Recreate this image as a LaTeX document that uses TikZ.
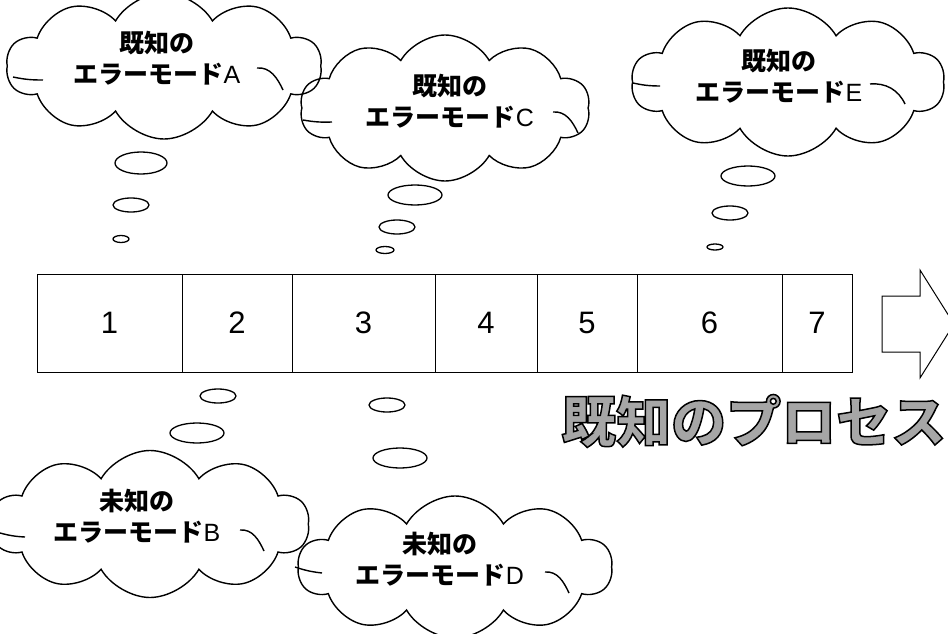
\documentclass[tikz,border=0pt]{standalone}
\usepackage{fontspec}
\setsansfont{Liberation Sans}
\newfontfamily\jp{Noto Sans CJK JP}
\usetikzlibrary{shapes.symbols,shapes.geometric}
\tikzset{
  thought/.style={cloud, cloud ignores aspect, draw=black, line width=1.4pt, cloud puffs=10, cloud puff arc=120, inner sep=0pt},
  ctext/.style={align=center, font=\jp\bfseries\fontsize{25}{31}\selectfont, inner sep=0pt},
  curl/.style={line width=1.4pt},
  bubble/.style={ellipse, draw=black, line width=1.3pt, inner sep=0pt},
  cell/.style={rectangle, draw=black, line width=1pt, minimum height=98pt, inner sep=0pt,
     font=\sffamily\fontsize{31}{34}\selectfont},
  ttl/.style={anchor=west, font=\jp\bfseries\fontsize{55}{60}\selectfont, inner sep=0pt}
}
\newcommand{\lt}[1]{{\sffamily\mdseries #1}}
\newcommand{\outlined}[1]{\color{black!35}\special{pdf:literal direct 0 G 1.5 w 2 Tr}#1\special{pdf:literal direct 0 Tr}}
% left curl (x1,y1)-(x2,y2), right curl (x3,y3)-(x4,y4)
\newcommand{\curls}[8]{%
  \draw[curl] (#1,#2) to[bend right=6] (#3,#4);
  \draw[curl] (#5,#6) to[out=5,in=115] (#7,#8);
}
\begin{document}
\begin{tikzpicture}[x=1pt,y=-1pt]
\useasboundingbox (0,0) rectangle (948,634);
% clouds
\node[thought, minimum width=315pt, minimum height=146pt] (A) at (164,66) {};
\node[thought, minimum width=290pt, minimum height=146pt] (C) at (445,108) {};
\node[thought, minimum width=313pt, minimum height=148pt] (E) at (788,82) {};
\node[thought, minimum width=318pt, minimum height=147pt] (B) at (150,524) {};
\node[thought, minimum width=314pt, minimum height=142pt] (D) at (455,567) {};
\curls{13}{77}{43}{80}{257}{68}{283}{90}
\curls{303}{120}{332}{122}{553}{112}{578}{133}
\curls{633}{83}{660}{86}{870}{84}{905}{104}
\curls{0}{533}{25}{537}{240}{530}{264}{551}
\curls{295}{567}{322}{573}{545}{572}{569}{593}
\node[ctext] (At) at (157,58) {既知の\\エラーモード\lt{A}};
\node[ctext] (Ct) at (450,101) {既知の\\エラーモード\lt{C}};
\node[ctext] (Et) at (779,76) {既知の\\エラーモード\lt{E}};
\node[ctext] (Bt) at (137,516) {未知の\\エラーモード\lt{B}};
\node[ctext] (Dt) at (440,559) {未知の\\エラーモード\lt{D}};
% bubbles
\node[bubble, minimum width=52pt, minimum height=22pt] (a1) at (141,163) {};
\node[bubble, minimum width=36pt, minimum height=14pt] (a2) at (131,205) {};
\node[bubble, minimum width=16pt, minimum height=7pt] (a3) at (121,239) {};
\node[bubble, minimum width=54pt, minimum height=20pt] (c1) at (415,195) {};
\node[bubble, minimum width=36pt, minimum height=14pt] (c2) at (397,227) {};
\node[bubble, minimum width=18pt, minimum height=7pt] (c3) at (385,250) {};
\node[bubble, minimum width=54pt, minimum height=20pt] (e1) at (748,176) {};
\node[bubble, minimum width=36pt, minimum height=14pt] (e2) at (730,213) {};
\node[bubble, minimum width=16pt, minimum height=6pt] (e3) at (715,247) {};
\node[bubble, minimum width=36pt, minimum height=14pt] (b1) at (218,396) {};
\node[bubble, minimum width=54pt, minimum height=20pt] (b2) at (197,433) {};
\node[bubble, minimum width=36pt, minimum height=14pt] (d1) at (387,405) {};
\node[bubble, minimum width=54pt, minimum height=20pt] (d2) at (400,458) {};
% process bar
\node[cell, minimum width=145pt] (s1) at (109.5,323) {1};
\node[cell, minimum width=110pt] (s2) at (237,323) {2};
\node[cell, minimum width=143pt] (s3) at (363.5,323) {3};
\node[cell, minimum width=102pt] (s4) at (486,323) {4};
\node[cell, minimum width=100pt] (s5) at (587,323) {5};
\node[cell, minimum width=145pt] (s6) at (709.5,323) {6};
\node[cell, minimum width=70pt] (s7) at (817,323) {7};
% arrow
\coordinate (tip) at (954,324);
\draw[line width=1pt] (882,296) -- (920,296) -- (920,270) -- (tip) -- (920,378) -- (920,352) -- (882,352) -- cycle;
% title
\node[ttl] (title) at (561,421) {\outlined{既知のプロセス}};
\end{tikzpicture}
\end{document}
